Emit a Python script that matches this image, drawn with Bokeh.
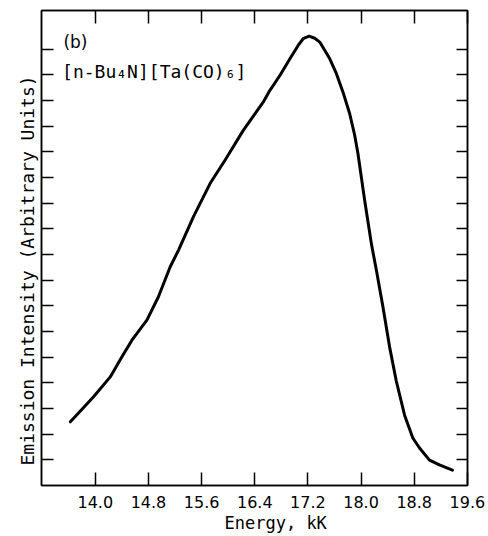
from bokeh.plotting import figure
from bokeh.models import FixedTicker, LinearAxis, Label, PrintfTickFormatter, Title
from bokeh.embed import file_html
from bokeh.resources import INLINE

# Emission spectrum of [n-Bu4N][Ta(CO)6] (arbitrary intensity units)
energy_kK = [13.625, 13.974, 14.225, 14.401, 14.551, 14.776, 14.950, 15.126, 15.251, 15.476,
             15.727, 15.952, 16.227, 16.527, 16.628, 16.778, 16.929, 17.053, 17.128, 17.218,
             17.303, 17.378, 17.453, 17.529, 17.629, 17.728, 17.829, 17.904, 17.953, 18.054,
             18.155, 18.230, 18.329, 18.429, 18.530, 18.655, 18.779, 18.880, 19.030, 19.180,
             19.375]
intensity = [2.48, 3.46, 4.23, 5.01, 5.66, 6.44, 7.35, 8.51, 9.16, 10.46,
             11.76, 12.67, 13.83, 14.93, 15.39, 15.97, 16.62, 17.14, 17.40, 17.50,
             17.42, 17.27, 16.95, 16.62, 16.04, 15.32, 14.48, 13.64, 12.93, 11.11,
             9.42, 8.39, 6.96, 5.40, 4.07, 2.74, 1.85, 1.46, 0.99, 0.80,
             0.60]

x_ticks = [14.0, 14.8, 15.6, 16.4, 17.2, 18.0, 18.8, 19.6]
y_ticks = list(range(1, 18))

SANS = "DejaVu Sans"
MONO = "DejaVu Sans Mono"

p = figure(width=488, height=534, x_range=(13.19, 19.602), y_range=(0, 18.5),
           output_backend="svg", toolbar_location=None,
           min_border_left=41, min_border_right=21, min_border_top=10, min_border_bottom=49)
p.background_fill_color = "white"
p.border_fill_color = "white"
p.outline_line_color = "black"
p.outline_line_width = 1.5
p.xgrid.visible = False
p.ygrid.visible = False

p.line(energy_kK, intensity, line_width=3, line_color="black",
       line_join="round", line_cap="round")

def style_hidden_labels(ax):
    ax.major_label_text_color = None
    ax.major_label_text_font_size = "1px"
    ax.major_label_standoff = 0
    ax.axis_label = None

xa = p.xaxis[0]
xa.ticker = FixedTicker(ticks=x_ticks)
xa.formatter = PrintfTickFormatter(format="%.1f")
xa.major_tick_in = 13
xa.major_tick_out = 0
xa.minor_tick_in = 0
xa.minor_tick_out = 0
xa.major_label_standoff = 10
xa.axis_line_width = 1.5
xa.axis_line_color = "black"
xa.major_tick_line_width = 1.5
xa.major_tick_line_color = "black"
xa.major_label_text_font = SANS
xa.major_label_text_font_size = "16px"
xa.major_label_text_color = "black"

ya = p.yaxis[0]
ya.ticker = FixedTicker(ticks=y_ticks)
ya.major_tick_in = 12
ya.major_tick_out = 0
ya.minor_tick_in = 0
ya.minor_tick_out = 0
ya.axis_line_width = 1.5
ya.axis_line_color = "black"
ya.major_tick_line_width = 1.5
ya.major_tick_line_color = "black"
style_hidden_labels(ya)

top = LinearAxis(ticker=FixedTicker(ticks=x_ticks), major_tick_in=13, major_tick_out=0,
                 minor_tick_in=0, minor_tick_out=0, axis_line_width=1.5,
                 major_tick_line_width=1.5, axis_line_color="black", major_tick_line_color="black")
style_hidden_labels(top)
p.add_layout(top, "above")
right = LinearAxis(ticker=FixedTicker(ticks=y_ticks), major_tick_in=11, major_tick_out=0,
                   minor_tick_in=0, minor_tick_out=0, axis_line_width=1.5,
                   major_tick_line_width=1.5, axis_line_color="black", major_tick_line_color="black")
style_hidden_labels(right)
p.add_layout(right, "right")

# axis titles (side titles so they can be nudged along the axis)
p.add_layout(Title(text="Energy, kK", text_font=MONO, text_font_size="17px",
                   text_font_style="normal", text_color="black", align="left",
                   offset=183, standoff=0), "below")
p.add_layout(Title(text="Emission Intensity (Arbitrary Units)", text_font=MONO,
                   text_font_size="18px", text_font_style="normal", text_color="black",
                   align="left", offset=20, standoff=8), "left")

# panel annotation
p.add_layout(Label(x=13.52, y=16.87, text="(b)", text_font=SANS,
                   text_font_size="17px", text_color="black"))
p.add_layout(Label(x=13.50, y=15.70, text="[n-Bu₄N][Ta(CO)₆]", text_font=MONO,
                   text_font_size="18px", text_color="black"))

open("out.html", "w").write(file_html(p, INLINE))
